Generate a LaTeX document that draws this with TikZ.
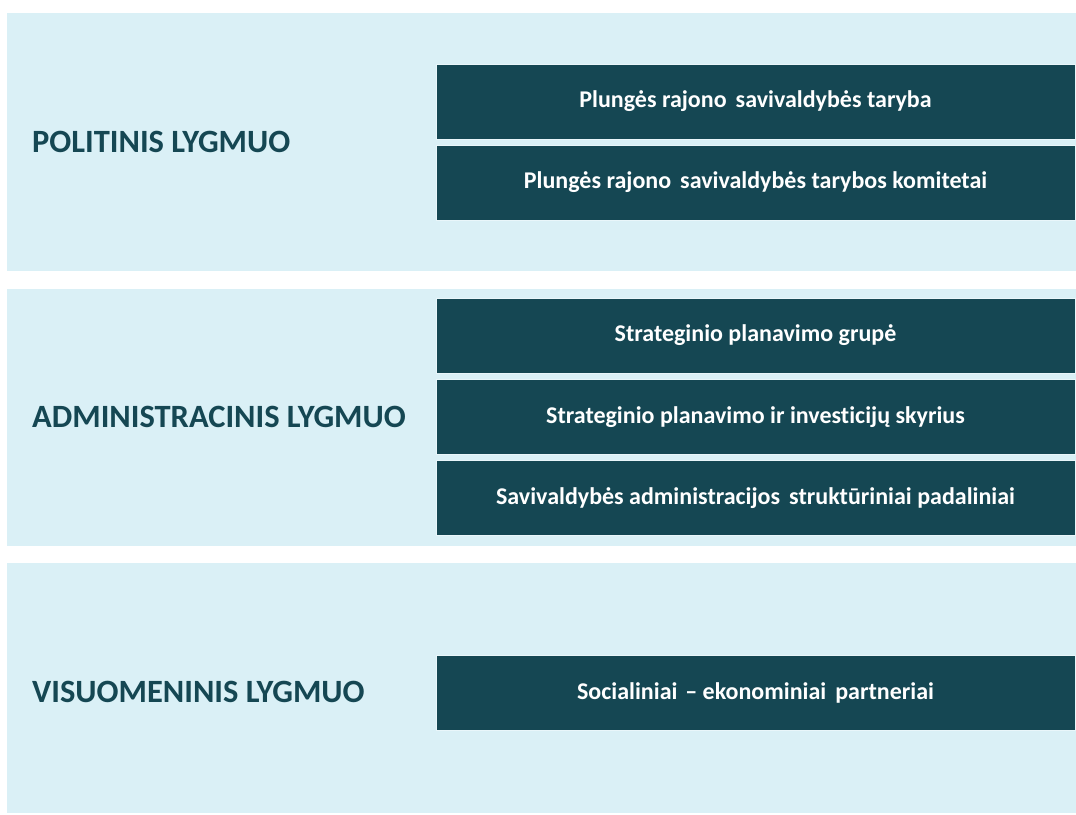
\documentclass[tikz,border=0pt]{standalone}
\usepackage{fontspec}
\setmainfont{Carlito}[Ligatures={NoCommon}]
\definecolor{band}{HTML}{DAF0F6}
\definecolor{dark}{HTML}{154753}
\tikzset{
  bandbox/.style={fill=band, draw=none},
  unitbox/.style={fill=dark, draw=band!60!white, line width=0.6pt, minimum width=639pt, minimum height=75pt, inner sep=0pt, text=white, font=\fontsize{24}{28}\selectfont\bfseries},
  leveltitle/.style={anchor=west, text=dark, inner sep=0pt, font=\fontsize{32.5}{36}\selectfont\bfseries}
}
\begin{document}
\begin{tikzpicture}[x=1pt,y=-1pt]
\useasboundingbox (0,0) rectangle (1076,814);
\fill[white] (0,0) rectangle (1076,814);
% bands
\fill[bandbox] (7,13) rectangle (1076,271);
\fill[bandbox] (7,289) rectangle (1076,546);
\fill[bandbox] (7,563) rectangle (1076,813);
% titles
\node[leveltitle] (t1) at (32,142) {POLITINIS LYGMUO};
\node[leveltitle] (t2) at (32,417) {ADMINISTRACINIS LYGMUO};
\node[leveltitle] (t3) at (32,692) {VISUOMENINIS LYGMUO};
% boxes
\node[unitbox] (b1) at (755.5,101.5) {Plungės rajono\hspace{0.15em} savivaldybės taryba};
\node[unitbox] (b2) at (755.5,182.5) {Plungės rajono\hspace{0.15em} savivaldybės tarybos komitetai};
\node[unitbox] (b3) at (755.5,335.5) {Strateginio planavimo grupė};
\node[unitbox] (b4) at (755.5,417) {Strateginio planavimo ir investicijų skyrius};
\node[unitbox] (b5) at (755.5,498) {Savivaldybės administracijos\hspace{0.15em} struktūriniai padaliniai};
\node[unitbox] (b6) at (755.5,692.5) {Socialiniai\hspace{0.1em} – ekonominiai\hspace{0.15em} partneriai};
\end{tikzpicture}
\end{document}
